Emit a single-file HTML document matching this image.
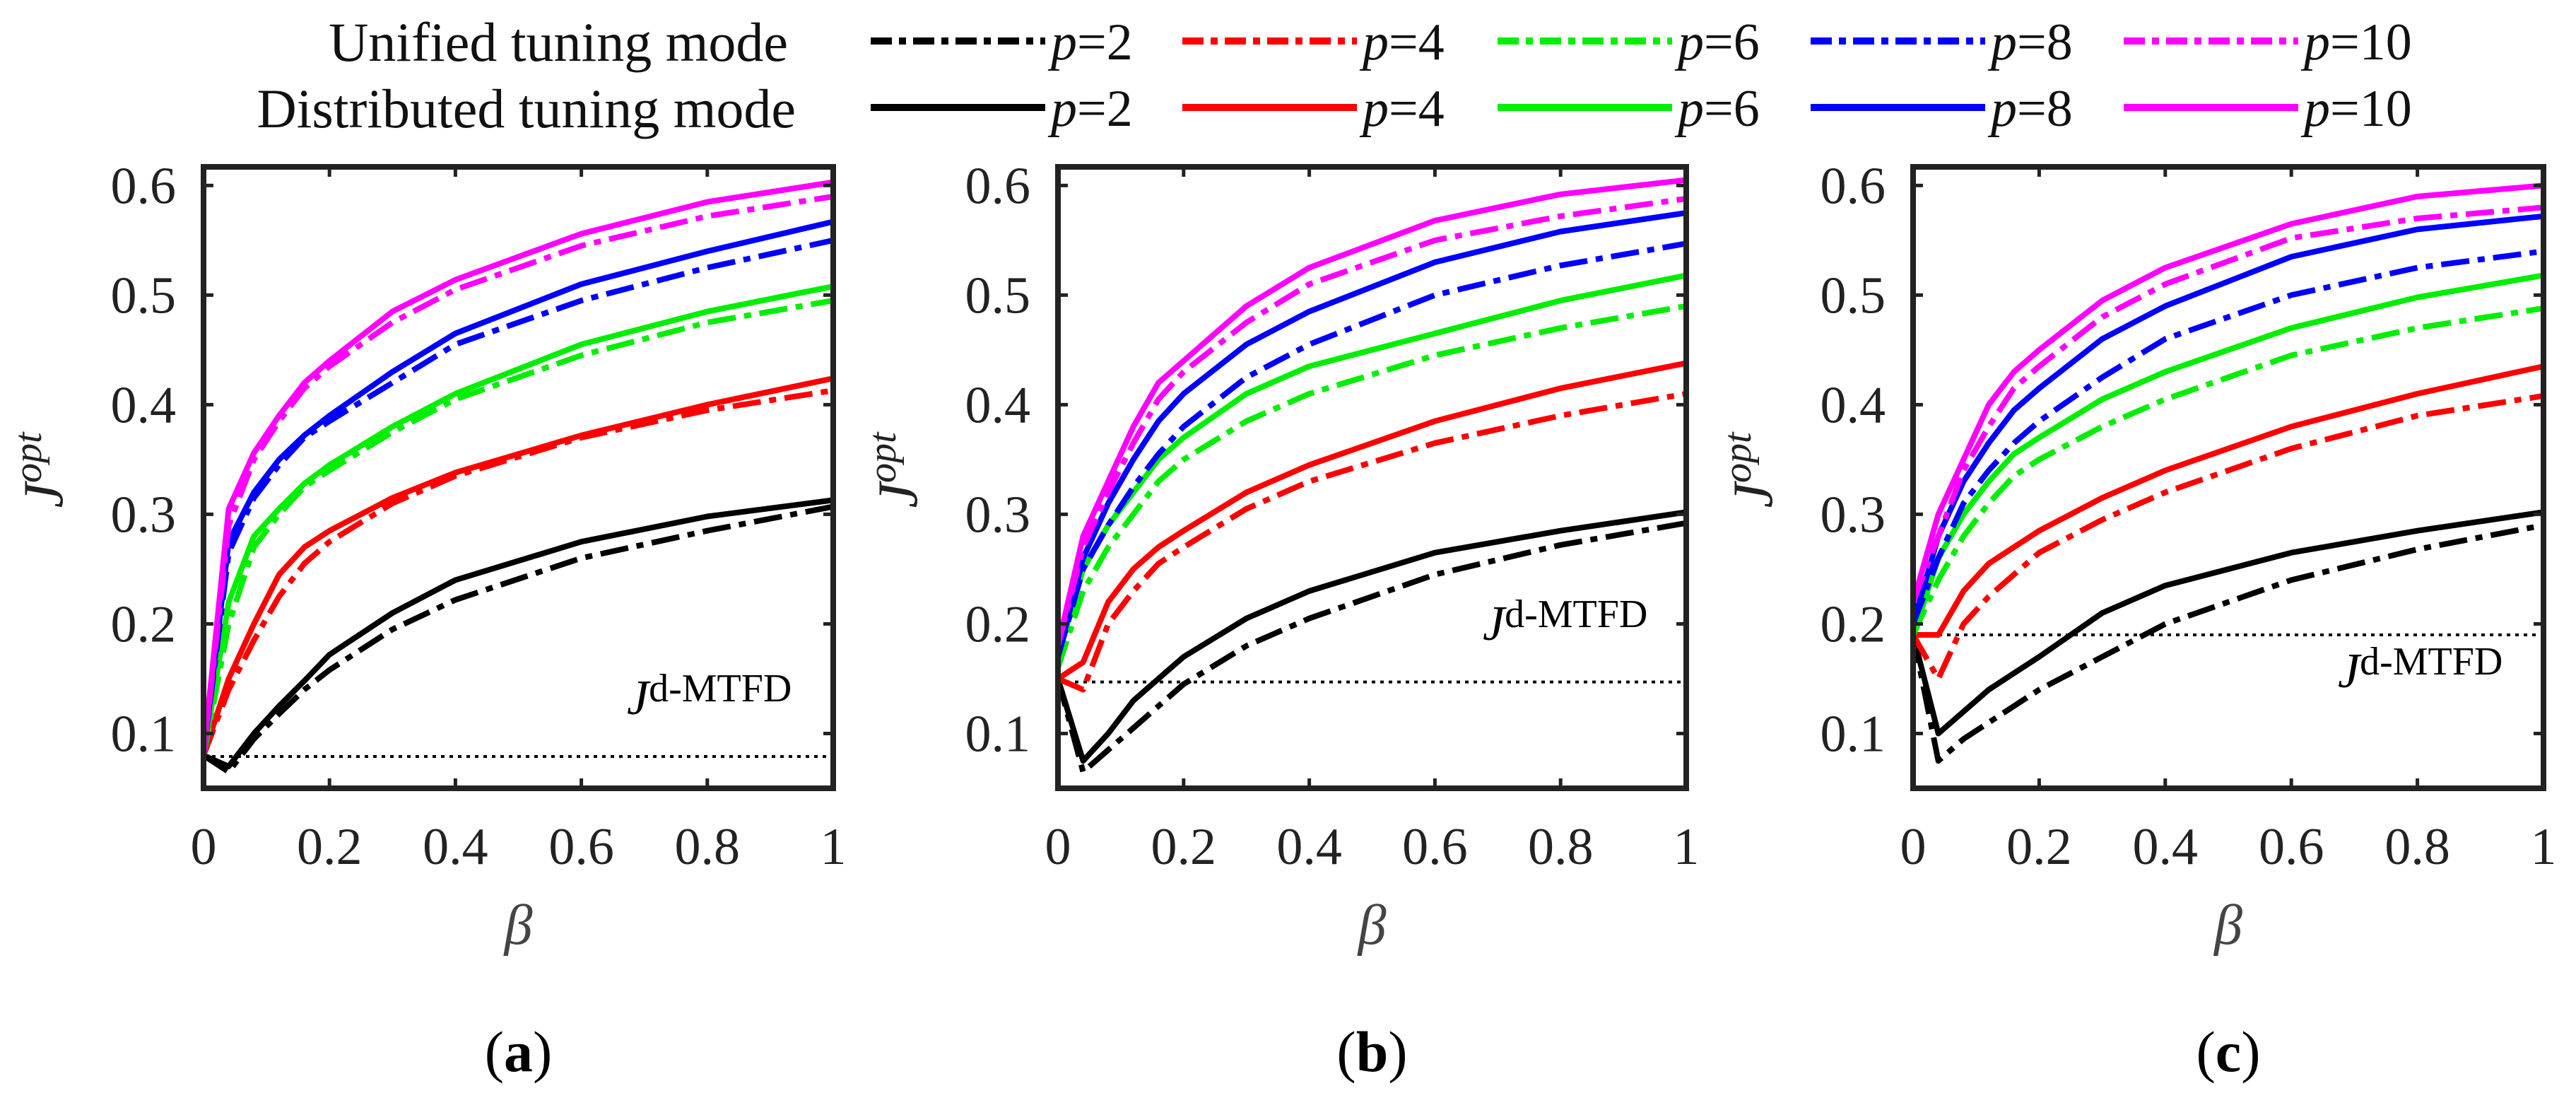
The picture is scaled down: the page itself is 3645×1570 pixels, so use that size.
<!DOCTYPE html>
<html><head><meta charset="utf-8"><style>
html,body{margin:0;padding:0;background:#fff}
svg{display:block;font-family:"Liberation Serif",serif}
</style></head><body>
<svg id="chart" width="3645" height="1570" viewBox="0 0 3645 1570" xmlns="http://www.w3.org/2000/svg">
<g id="legend"></g>
<g id="panels"></g>
</svg>
<script>
const betaValues = [0,0.04,0.08,0.12,0.16,0.2,0.3,0.4,0.6,0.8,1];
const pValues = [2,4,6,8,10];
const seriesColors = ["#000000","#ff0000","#00ee00","#0000ff","#ff00ff"];
const xTicks = [0,0.2,0.4,0.6,0.8,1];
const xTickLabels = ["0","0.2","0.4","0.6","0.8","1"];
const yTicks = [0.1,0.2,0.3,0.4,0.5,0.6];
const yTickLabels = ["0.1","0.2","0.3","0.4","0.5","0.6"];
const panelLabels = ["(a)","(b)","(c)"];
const thresholdValues = [0.079,0.147,0.19];

// panel a
const aSolid2=[.08,.07,.10,.125,.148,.172,.21,.24,.275,.298,.313];
const aDash2=[.08,.065,.095,.118,.14,.158,.195,.222,.26,.285,.307];
const aSolid4=[.08,.15,.20,.245,.27,.285,.315,.338,.372,.40,.424];
const aDash4=[.08,.14,.185,.225,.255,.275,.31,.335,.37,.395,.413];
const aSolid6=[.08,.22,.28,.305,.328,.345,.38,.41,.455,.485,.508];
const aDash6=[.08,.20,.27,.30,.325,.34,.375,.405,.445,.475,.495];
const aSolid8=[.08,.275,.32,.35,.372,.39,.43,.465,.51,.54,.567];
const aDash8=[.08,.265,.315,.345,.37,.385,.42,.455,.495,.525,.55];
const aSolid10=[.08,.305,.356,.39,.42,.44,.485,.514,.556,.585,.603];
const aDash10=[.08,.29,.35,.385,.415,.435,.475,.505,.545,.572,.59];
// panel b
const bSolid2=[.15,.075,.10,.13,.15,.17,.205,.23,.265,.285,.302];
const bDash2=[.15,.065,.085,.105,.125,.145,.18,.205,.245,.272,.292];
const bSolid4=[.15,.165,.22,.25,.27,.285,.32,.345,.385,.415,.438];
const bDash4=[.15,.14,.20,.23,.255,.27,.305,.33,.365,.39,.41];
const bSolid6=[.17,.25,.29,.32,.35,.37,.41,.435,.465,.495,.518];
const bDash6=[.16,.23,.27,.30,.33,.35,.385,.41,.445,.47,.49];
const bSolid8=[.17,.26,.31,.35,.385,.41,.455,.485,.53,.558,.575];
const bDash8=[.17,.25,.29,.325,.355,.38,.425,.455,.50,.527,.547];
const bSolid10=[.18,.28,.33,.38,.42,.44,.49,.525,.568,.592,.605];
const bDash10=[.18,.27,.32,.365,.405,.43,.475,.51,.55,.572,.588];
// panel c
const cSolid2=[.19,.10,.12,.14,.155,.17,.21,.235,.265,.285,.302];
const cDash2=[.19,.075,.095,.11,.125,.14,.17,.20,.24,.268,.29];
const cSolid4=[.19,.19,.23,.255,.27,.285,.315,.34,.38,.41,.435];
const cDash4=[.19,.15,.20,.225,.245,.265,.295,.32,.36,.39,.408];
const cSolid6=[.19,.26,.30,.33,.355,.37,.405,.43,.47,.498,.518];
const cDash6=[.19,.24,.28,.31,.335,.35,.38,.405,.445,.47,.488];
const cSolid8=[.20,.28,.33,.365,.395,.415,.46,.49,.535,.56,.572];
const cDash8=[.20,.26,.31,.34,.365,.385,.425,.46,.50,.525,.54];
const cSolid10=[.22,.30,.35,.40,.43,.45,.495,.525,.565,.59,.60];
const cDash10=[.22,.28,.34,.38,.415,.435,.48,.51,.552,.57,.58];

const panelSolid=[[aSolid2,aSolid4,aSolid6,aSolid8,aSolid10],[bSolid2,bSolid4,bSolid6,bSolid8,bSolid10],[cSolid2,cSolid4,cSolid6,cSolid8,cSolid10]];
const panelDash=[[aDash2,aDash4,aDash6,aDash8,aDash10],[bDash2,bDash4,bDash6,bDash8,bDash10],[cDash2,cDash4,cDash6,cDash8,cDash10]];

const NS="http://www.w3.org/2000/svg";
function mk(tag,attrs,parent){const e=document.createElementNS(NS,tag);for(const k in attrs)e.setAttribute(k,attrs[k]);parent.appendChild(e);return e;}
const frames=[[288,1179],[1497,2386],[2707,3599]];
const TOP=236,BOT=1115,YMIN=0.05,YMAX=0.617;
const DASH="40 12 10 12";
const panelsG=document.getElementById('panels');
const labelX=[887,2098,3308];
const labelY=[1010,905,972];

frames.forEach((f,pi)=>{
  const [L,R]=f;
  const xs=v=>L+(R-L)*v;
  const ys=v=>BOT-(BOT-TOP)*(v-YMIN)/(YMAX-YMIN);
  const g=mk('g',{},panelsG);
  
  
  const clip=mk('clipPath',{id:'clip'+pi},g);
  mk('rect',{x:L,y:TOP,width:R-L,height:BOT-TOP},clip);
  const plot=mk('g',{'clip-path':'url(#clip'+pi+')'},g);
  
  
  const th=mk('line',{x1:xs(0),x2:xs(1),y1:ys(thresholdValues[pi]),y2:ys(thresholdValues[pi]),stroke:'#000','stroke-width':4,'stroke-dasharray':'5 7'},plot);
  
  
  for(let k=0;k<pValues.length;k++){
    [[panelDash[pi][k],true],[panelSolid[pi][k],false]].forEach(([arr,dash])=>{
      const pts=arr.map((v,i)=>xs(betaValues[i]).toFixed(1)+','+ys(v).toFixed(1)).join(' ');
      const pl=mk('polyline',{points:pts,fill:'none',stroke:seriesColors[k],'stroke-width':8,'stroke-linejoin':'round'},plot);
      if(dash)pl.setAttribute('stroke-dasharray',DASH);
      
      
    });
  }
  const fr=mk('rect',{x:L,y:TOP,width:R-L,height:BOT-TOP,fill:'none',stroke:'#222','stroke-width':8},g);
  
  
  xTicks.forEach((t,i)=>{
    const x=xs(t);
    if(t>0&&t<1){
      mk('line',{x1:x,x2:x,y1:BOT,y2:BOT-14,stroke:'#222','stroke-width':5},g);
      mk('line',{x1:x,x2:x,y1:TOP,y2:TOP+14,stroke:'#222','stroke-width':5},g);
    }
    const tx=mk('text',{x:x,y:1222,'font-size':74,'text-anchor':'middle',fill:'#222'},g);
    tx.textContent=xTickLabels[i];
    
    
  });
  yTicks.forEach((t,i)=>{
    const y=ys(t);
    mk('line',{x1:L,x2:L+14,y1:y,y2:y,stroke:'#222','stroke-width':5},g);
    mk('line',{x1:R,x2:R-14,y1:y,y2:y,stroke:'#222','stroke-width':5},g);
    const tx=mk('text',{x:L-39,y:y+25,'font-size':74,'text-anchor':'end',fill:'#222'},g);
    tx.textContent=yTickLabels[i];
    
    
  });
  const xl=mk('text',{x:(L+R)/2,y:1335,'font-size':80,'font-style':'italic','text-anchor':'middle',fill:'#444'},g);
  xl.textContent='β';
  
  
  const yl=mk('text',{x:0,y:0,'font-size':80,'font-style':'italic','text-anchor':'middle',fill:'#222',transform:'translate('+(L-200)+',665) rotate(-90)'},g);
  yl.innerHTML='J<tspan font-size="56" dy="-30">opt</tspan>';
  
  
  const tl=mk('text',{x:labelX[pi],y:labelY[pi],'font-size':56,fill:'#000'},g);
  tl.innerHTML='<tspan font-style="italic" font-size="70">J</tspan><tspan dy="-18">d-MTFD</tspan>';
  
  
  const pl=mk('text',{x:(L+R)/2,y:1515,'font-size':82,'text-anchor':'middle',fill:'#000'},g);
  pl.innerHTML='(<tspan font-weight="bold">'+panelLabels[pi].slice(1,2)+'</tspan>)';
  
  
});

const lg=document.getElementById('legend');
const r1=mk('text',{x:1115,y:86,'font-size':78,'text-anchor':'end',fill:'#111'},lg);
r1.textContent='Unified  tuning mode';


const r2=mk('text',{x:1126,y:180,'font-size':78,'text-anchor':'end',fill:'#111'},lg);
r2.textContent='Distributed  tuning mode';


const legX=[1232,1673,2119,2562,3005];
pValues.forEach((p,k)=>{
  [[58,true],[152,false]].forEach(([y,dash])=>{
    const ln=mk('line',{x1:legX[k],x2:legX[k]+247,y1:y,y2:y,stroke:seriesColors[k],'stroke-width':10},lg);
    if(dash)ln.setAttribute('stroke-dasharray','30 10 10 10');
    
    
    const t=mk('text',{x:legX[k]+255,y:y+26,'font-size':74,fill:'#111'},lg);
    t.innerHTML='<tspan font-style="italic">p</tspan>='+p;
    
    
  });
});
</script>
</body></html>
